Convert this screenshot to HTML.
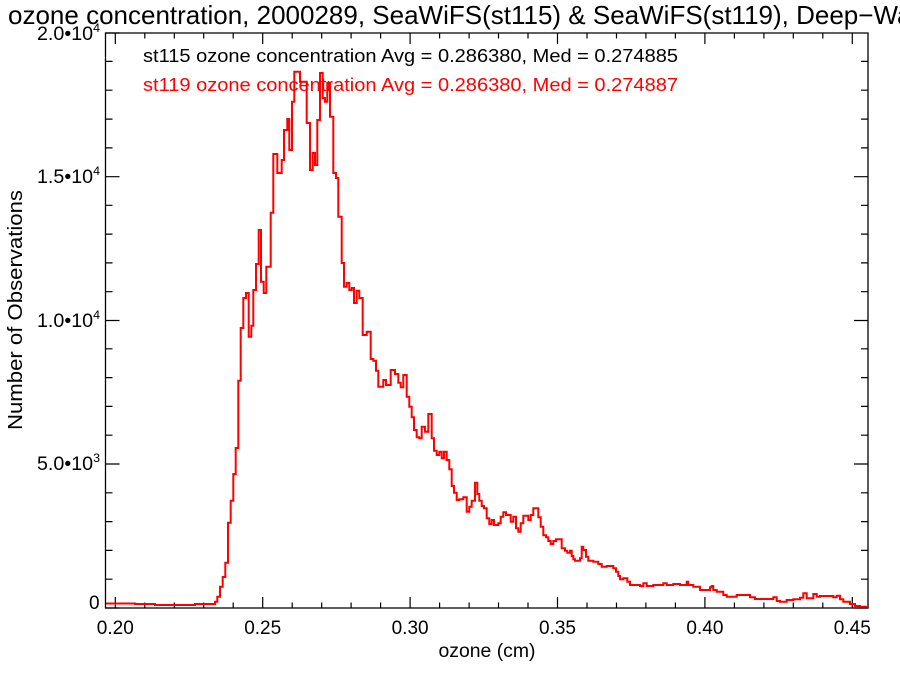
<!DOCTYPE html>
<html><head><meta charset="utf-8"><style>
html,body{margin:0;padding:0;background:#fff;}
svg{display:block;font-family:"Liberation Sans",Arial,sans-serif;}
</style></head><body>
<svg width="900" height="675" viewBox="0 0 900 675" xmlns="http://www.w3.org/2000/svg">
<rect width="900" height="675" fill="#fff"/>
<text x="8" y="24" font-size="26" fill="#000">ozone concentration, 2000289, SeaWiFS(st115) &amp; SeaWiFS(st119), Deep−Water</text>
<path d="M105.5 33 H868 V608 H105.5 Z" fill="none" stroke="#000" stroke-width="1.3"/>
<g stroke="#000" stroke-width="1.2" fill="none">
<path d="
M115.3 608v-11M144.8 608v-5.5M174.3 608v-5.5M203.7 608v-5.5M233.2 608v-5.5
M262.7 608v-11M292.2 608v-5.5M321.7 608v-5.5M351.1 608v-5.5M380.6 608v-5.5
M410.1 608v-11M439.6 608v-5.5M469.1 608v-5.5M498.5 608v-5.5M528 608v-5.5
M557.5 608v-11M587 608v-5.5M616.5 608v-5.5M645.9 608v-5.5M675.4 608v-5.5
M704.9 608v-11M734.4 608v-5.5M763.9 608v-5.5M793.3 608v-5.5M822.8 608v-5.5
M852.3 608v-11
M115.3 33v11M144.8 33v5.5M174.3 33v5.5M203.7 33v5.5M233.2 33v5.5
M262.7 33v11M292.2 33v5.5M321.7 33v5.5M351.1 33v5.5M380.6 33v5.5
M410.1 33v11M439.6 33v5.5M469.1 33v5.5M498.5 33v5.5M528 33v5.5
M557.5 33v11M587 33v5.5M616.5 33v5.5M645.9 33v5.5M675.4 33v5.5
M704.9 33v11M734.4 33v5.5M763.9 33v5.5M793.3 33v5.5M822.8 33v5.5
M852.3 33v11"/>
<path d="
M105.5 608h14M105.5 579.2h7M105.5 550.4h7M105.5 521.6h7M105.5 492.8h7
M105.5 464h14M105.5 435.2h7M105.5 406.4h7M105.5 377.6h7M105.5 348.8h7
M105.5 320.5h14M105.5 291.7h7M105.5 262.9h7M105.5 234.1h7M105.5 205.3h7
M105.5 176.7h14M105.5 147.9h7M105.5 119.1h7M105.5 90.2h7M105.5 61.4h7
M105.5 33h14
M868 608h-14M868 579.2h-7M868 550.4h-7M868 521.6h-7M868 492.8h-7
M868 464h-14M868 435.2h-7M868 406.4h-7M868 377.6h-7M868 348.8h-7
M868 320.5h-14M868 291.7h-7M868 262.9h-7M868 234.1h-7M868 205.3h-7
M868 176.7h-14M868 147.9h-7M868 119.1h-7M868 90.2h-7M868 61.4h-7"/>
</g>
<g font-size="19" fill="#000" text-anchor="middle">
<text x="115.3" y="634">0.20</text>
<text x="262.7" y="634">0.25</text>
<text x="410.1" y="634">0.30</text>
<text x="557.5" y="634">0.35</text>
<text x="704.9" y="634">0.40</text>
<text x="852.3" y="634">0.45</text>
<text x="487" y="657" textLength="97" lengthAdjust="spacingAndGlyphs">ozone (cm)</text>
</g>
<g font-size="19" fill="#000">
<text x="89" y="609">0</text>
<text x="37" y="470" textLength="63" lengthAdjust="spacingAndGlyphs">5.0•10<tspan font-size="12" dy="-8">3</tspan></text>
<text x="37" y="327" textLength="63" lengthAdjust="spacingAndGlyphs">1.0•10<tspan font-size="12" dy="-8">4</tspan></text>
<text x="37" y="183" textLength="63" lengthAdjust="spacingAndGlyphs">1.5•10<tspan font-size="12" dy="-8">4</tspan></text>
<text x="37" y="40" textLength="63" lengthAdjust="spacingAndGlyphs">2.0•10<tspan font-size="12" dy="-8">4</tspan></text>
</g>
<text transform="translate(22,310) rotate(-90)" font-size="20" text-anchor="middle" fill="#000" textLength="240" lengthAdjust="spacingAndGlyphs">Number of Observations</text>
<text x="143" y="62" font-size="18" fill="#000" textLength="535" lengthAdjust="spacingAndGlyphs">st115 ozone concentration Avg = 0.286380, Med = 0.274885</text>
<text x="143" y="91" font-size="18" fill="#ff0000" textLength="535" lengthAdjust="spacingAndGlyphs">st119 ozone concentration Avg = 0.286380, Med = 0.274887</text>
<path fill="none" stroke="#ff0000" stroke-width="2" d="M106 603.5 H135 V604 H155 V605 H195 V604 H215 V601.7 H217.3 V596.7 H220 V586.7 H222.7 V577 H225.3 V562.7 H228 V522.7 H230.7 V500.7 H233.3 V474 H235.7 V448 H238.3 V380.7 H240.7 V328 H243.3 V298 H246 V293 H248.7 V336.7 H251.3 V325.7 H253.3 V290 H256 V264 H258.7 V230 H261 V281.7 H263.7 V293 H266.3 V266.7 H270.7 V212.7 H273.3 V154 H277.3 V173 H281.7 V160 H284 V130 H287.3 V119 H289.3 V150 H292 V101.7 H294.3 V71.7 H300 V81.7 H306.7 V123 H310 V170 H312.7 V153 H315 V165 H317.3 V120 H320 V73 H322.7 V98 H325 V101.7 H327.3 V83 H330 V116.7 H333.3 V173 H336 V178 H338.3 V216.7 H341.7 V263 H344 V286.7 H346.7 V283 H349.3 V290 H351.7 V288 H354 V303 H356.7 V290.7 H359.3 V298 H362.7 V335 H366.7 V331.7 H370.7 V359 H373.3 V360.7 H376 V370.7 H378.3 V386.7 H383.3 V380 H386 V385 H390.7 V370 H395 V374 H398.3 V382.7 H400.7 V387.3 H403.3 V375 H406.7 V396.7 H409.3 V406.7 H411.7 V417.3 H414 V430 H416.7 V437.3 H419.3 V438.3 H421.7 V426.7 H425 V431.7 H428.3 V414 H431.7 V438.3 H434 V450.7 H436.7 V455 H439.3 V451.7 H441.7 V458.3 H444 V451.7 H446.7 V460 H449.3 V469.3 H451.7 V486 H454 V492.7 H456.7 V500 H459.3 V499.3 H463.3 V497.3 H466.7 V511.7 H469.3 V506.7 H471.7 V500.7 H475 V482.7 H477.3 V494 H479.3 V500.7 H481.7 V506 H484 V508.3 H486.7 V518.3 H489.3 V524 H491.7 V520 H494 V525 H498.3 V523.3 H500.7 V516.7 H503.3 V512.3 H506 V515 H510.7 V521.7 H513.3 V516.7 H516 V528.3 H518.3 V531.7 H520.7 V523.3 H523.3 V515.7 H528.3 V520 H530.7 V515 H533.3 V508.3 H538.3 V517.3 H540.7 V526.7 H543.3 V535.3 H546 V537.3 H548.3 V541 H550.7 V544 H553.3 V541 H556 V539.3 H561.7 V548.3 H565 V550.7 H567.3 V552.7 H570 V550.7 H571.7 V556 H573.3 V559.3 H575 V560.7 H580 V558.3 H581.7 V546.7 H583.3 V550 H586 V556.7 H588.3 V560.7 H593.3 V561.7 H598.3 V564 H601.7 V566.7 H606.7 V566 H613.3 V568.3 H616 V571.7 H618.3 V576 H620 V579.3 H623.3 V578.3 H627.3 V581.7 H630 V585 H640 V586 H643.3 V583.3 H646.7 V586 H653.3 V585 H663.3 V583.3 H666.7 V585 H673.3 V584 H680 V585 H686.7 V581.7 H688.3 V585 H693.3 V586.7 H700 V590 H710 V587.3 H711.7 V586 H713.3 V590 H716.7 V591.7 H723.3 V595 H726.7 V596.7 H736.7 V595 H750 V597.3 H755 V599 H773.3 V597.3 H776.7 V601 H780 V601.7 H786.7 V600 H793.3 V599.3 H800 V597.7 H803.3 V593.3 H806.7 V598.3 H813.3 V594 H816.7 V596.7 H820 V596 H833.3 V597.3 H836.7 V595.7 H840 V599.3 H843.3 V601.7 H850 V604 H855 V606 H860 V606.7 H868"/>
</svg>
</body></html>
